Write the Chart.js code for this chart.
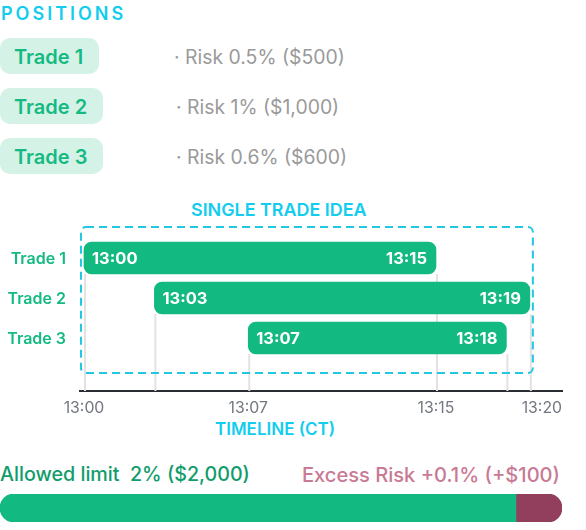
<!DOCTYPE html>
<html>
<head>
<meta charset="utf-8">
<script src="https://cdn.jsdelivr.net/npm/chart.js@4"></script>
<style>
  html, body { margin: 0; padding: 0; background: #fff; }
  body { width: 586px; height: 530px; position: relative; overflow: hidden; font-family: Inter, sans-serif; }
  .txt { position: absolute; white-space: pre; line-height: 1; }
  .chip { position: absolute; left: 0; height: 36px; line-height: 38px; padding: 0 16px 0 14px; border-radius: 10px;
    background: #d5f2e7; color: #14ba82; font-size: 20px; font-weight: 600; }
  .risk { color: #9a9a9a; font-size: 19.4px; }
  .cyan { color: #12cdee; font-weight: 600; }
  canvas { position: absolute; left: 0; }
</style>
</head>
<body>
  <div class="txt" style="left:1px;top:5px;font-size:18px;font-weight:600;letter-spacing:3px;color:#12cdee">POSITIONS</div>
  <div id="rows"></div>
  <div class="txt cyan" style="left:191px;top:201px;font-size:17.9px">SINGLE TRADE IDEA</div>
  <div class="txt cyan" style="left:215px;top:421px;font-size:17px">TIMELINE (CT)</div>
  <canvas id="timeline" style="top:195px;width:586px;height:226px"></canvas>
  <div class="txt" style="left:0;top:465px;font-size:19.7px;color:#119c6c;font-weight:500">Allowed limit  2% ($2,000)</div>
  <div class="txt" style="right:26px;top:465px;font-size:20.1px;color:#c97a94;font-weight:500">Excess Risk +0.1% (+$100)</div>
  <canvas id="limit" style="top:494px;width:586px;height:28px"></canvas>

<script>
const tradeNames = ['Trade 1', 'Trade 2', 'Trade 3']
const tradeRisks = ['· Risk 0.5% ($500)', '· Risk 1% ($1,000)', '· Risk 0.6% ($600)']
const startMinutes = [0, 3, 7]
const endMinutes = [15, 19, 18]
const tickMinutes = [0, 7, 15, 20]

// widths of the two parts of the limit bar, share of the bar
const allowedShare = [91.8]
const excessShare = [8.2]

const green = '#12b981'
const timeLabel = (m) => `13:${String(m).padStart(2, '0')}`

const rows = document.getElementById('rows')
const riskLeft = [174, 176, 176]
tradeNames.forEach((name, i) => {
  const top = 38 + i * 50
  rows.innerHTML += `<div class="chip" style="top:${top}px">${name}</div>`
  rows.innerHTML += `<div class="txt risk" style="left:${riskLeft[i]}px;top:${top + 10}px">${tradeRisks[i]}</div>`
})

// guide lines, dashed frame and the times written inside the bars
const timelineDecor = {
  id: 'timelineDecor',
  beforeDraw(chart) {
    // last tick label stops at the end of the axis
    const x = chart.scales.x
    const last = x.getLabelItems().at(-1)
    last.options.textAlign = 'right'
    last.options.translation[0] = x.right
  },
  beforeDatasetsDraw(chart) {
    const { ctx, scales: { x, y } } = chart
    ctx.save()
    ctx.strokeStyle = '#e2e2e2'
    ctx.lineWidth = 2
    startMinutes.forEach((start, i) => {
      const from = y.getPixelForValue(i) + 16
      ;[start, endMinutes[i]].forEach((m) => {
        ctx.beginPath()
        ctx.moveTo(x.getPixelForValue(m) + 1, from)
        ctx.lineTo(x.getPixelForValue(m) + 1, y.bottom)
        ctx.stroke()
      })
    })
    const left = x.getPixelForValue(0) - 3
    const right = x.getPixelForValue(19) + 3
    const top = y.getPixelForValue(0) - 31
    const bottom = y.getPixelForValue(2) + 35
    ctx.strokeStyle = '#22c7e2'
    ctx.setLineDash([8, 5])
    ctx.beginPath()
    ctx.roundRect(left, top, right - left, bottom - top, 5)
    ctx.stroke()
    ctx.restore()
  },
  afterDatasetsDraw(chart) {
    const { ctx } = chart
    ctx.save()
    ctx.fillStyle = '#fff'
    ctx.font = '700 16.5px Inter'
    ctx.textBaseline = 'middle'
    chart.getDatasetMeta(0).data.forEach((bar, i) => {
      ctx.textAlign = 'left'
      ctx.fillText(timeLabel(startMinutes[i]), bar.base + 8, bar.y + 1)
      ctx.textAlign = 'right'
      ctx.fillText(timeLabel(endMinutes[i]), bar.x - 9, bar.y + 1)
    })
    ctx.restore()
  }
}

new Chart(document.getElementById('timeline'), {
  type: 'bar',
  data: {
    datasets: [{
      data: tradeNames.map((_, i) => ({ x: [startMinutes[i], endMinutes[i]], y: i })),
      backgroundColor: green,
      borderRadius: 8,
      borderSkipped: false,
      barThickness: 32
    }]
  },
  options: {
    indexAxis: 'y',
    animation: false,
    responsive: false,
    devicePixelRatio: 1,
    layout: { padding: { top: 25, right: 24 } },
    plugins: { legend: { display: false }, tooltip: { enabled: false } },
    scales: {
      x: {
        type: 'linear',
        bounds: 'data',
        min: -0.17,
        max: 20.37,
        grid: { display: false },
        border: { color: '#2a2d33', width: 2 },
        afterBuildTicks: (scale) => { scale.ticks = tickMinutes.map((value) => ({ value })) },
        afterFit: (scale) => { scale.height = 30 },
        ticks: {
          callback: (v) => timeLabel(v),
          color: '#737780',
          font: { family: 'Inter', size: 15.8 },
          autoSkip: false,
          maxRotation: 0,
          padding: 0
        }
      },
      y: {
        type: 'linear',
        bounds: 'data',
        offset: false,
        reverse: true,
        min: -0.95,
        max: 3.325,
        grid: { display: false },
        border: { display: false },
        afterBuildTicks: (scale) => { scale.ticks = tradeNames.map((_, value) => ({ value })) },
        afterFit: (scale) => { scale.width = 80 },
        ticks: {
          callback: (v) => tradeNames[v],
          color: '#14ba82',
          font: { family: 'Inter', size: 16, weight: '600' },
          autoSkip: false,
          padding: 6,
          labelOffset: 1
        }
      }
    }
  },
  plugins: [timelineDecor]
})

new Chart(document.getElementById('limit'), {
  type: 'bar',
  data: {
    labels: ['Limit'],
    datasets: [
      {
        data: allowedShare,
        backgroundColor: green,
        borderSkipped: false,
        borderRadius: { topLeft: 14, bottomLeft: 14 }
      },
      {
        data: excessShare,
        backgroundColor: '#923f5e',
        borderSkipped: false,
        borderRadius: { topRight: 14, bottomRight: 14 }
      }
    ]
  },
  options: {
    indexAxis: 'y',
    animation: false,
    responsive: false,
    devicePixelRatio: 1,
    layout: { padding: { right: 24 } },
    plugins: { legend: { display: false }, tooltip: { enabled: false } },
    datasets: { bar: { barPercentage: 1, categoryPercentage: 1 } },
    scales: {
      x: { stacked: true, display: false, min: 0, max: 100 },
      y: { stacked: true, display: false }
    }
  }
})
</script>
</body>
</html>
